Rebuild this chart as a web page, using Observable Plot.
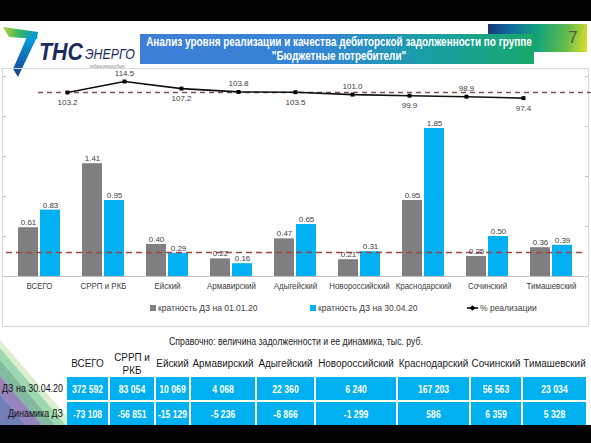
<!DOCTYPE html>
<html><head><meta charset="utf-8">
<script src="https://cdn.jsdelivr.net/npm/d3@7"></script>
<script src="https://cdn.jsdelivr.net/npm/@observablehq/plot@0.6"></script>
<style>
body{margin:0;width:591px;height:443px;overflow:hidden;background:#fff;position:relative;font-family:"Liberation Sans",Arial,sans-serif;}
.abs{position:absolute;}
.leg{position:absolute;font-size:8.5px;color:#404040;white-space:nowrap;}
</style></head><body>
<div class="abs" style="left:0;top:0;width:591px;height:21px;background:#000"></div>

<svg class="abs" style="left:0;top:0;overflow:visible" width="150" height="80">
  <defs>
    <linearGradient id="lg1" x1="0" y1="0" x2="1" y2="0">
      <stop offset="0" stop-color="#b5d334"/><stop offset="0.5" stop-color="#2fb46a"/><stop offset="1" stop-color="#0096d6"/>
    </linearGradient>
    <linearGradient id="lg2" x1="0" y1="0" x2="0" y2="1">
      <stop offset="0" stop-color="#00a0e0"/><stop offset="1" stop-color="#1c3f8f"/>
    </linearGradient>
  </defs>
  <polygon points="3,27 38,32 37,39 9,37" fill="url(#lg1)"/>
  <polygon points="27,37 37,37 18,77 13,69" fill="url(#lg2)"/>
  <text x="39" y="60" font-family="Liberation Sans, Arial, sans-serif" font-weight="bold" font-style="italic" font-size="23" fill="#1b2a5e" textLength="44" lengthAdjust="spacingAndGlyphs">ТНС</text>
  <text x="85" y="59" font-family="Liberation Sans, Arial, sans-serif" font-style="italic" font-size="14.5" fill="#1b2a5e" textLength="50" lengthAdjust="spacingAndGlyphs">ЭНЕРГО</text>
  <text x="90" y="68" font-family="Liberation Sans, Arial, sans-serif" font-style="italic" font-size="4.5" fill="#888" textLength="35" lengthAdjust="spacingAndGlyphs">кубаньэнергосбыт</text>
</svg>

<div class="abs" style="left:488px;top:24px;width:99px;height:28px;background:linear-gradient(100deg,#1b3578 0%,#0f6aa0 22%,#14a47a 50%,#62bb4a 78%,#dfe22a 100%)"></div>
<div class="abs" style="left:562px;top:24px;width:22px;height:28px;font:17px 'Liberation Sans',sans-serif;color:#555;line-height:28px;text-align:center">7</div>
<div class="abs" style="left:140px;top:34px;width:394px;height:30px;background:linear-gradient(90deg,#3f7ed8 0%,#3485d4 45%,#1a9ea8 72%,#18a86a 100%)"></div>
<svg id="titleSvg" class="abs" style="left:140px;top:34px" width="394" height="30"></svg>

<div class="abs" style="left:2px;top:68px;width:587px;height:259px;border:1px solid #d9d9d9;box-sizing:border-box"></div>
<div id="barChart" class="abs" style="left:0;top:66px"></div>
<div id="lineChart" class="abs" style="left:0;top:70px"></div>

<div id="legend"></div>

<svg class="abs" style="left:0;top:340px" width="70" height="90">
  <polygon points="0,8 0,20 55,85 66,85" fill="#5cc07a" opacity="0.6"/>
  <polygon points="0,0 0,8 66,85 70,85 70,80" fill="#c5e3b0" opacity="0.6"/>
  <polygon points="0,20 0,36 42,85 55,85" fill="#2e8b60" opacity="0.6"/>
  <polygon points="0,36 0,54 26,85 42,85" fill="#6a4e9e" opacity="0.7"/>
  <polygon points="0,54 0,85 26,85" fill="#34489a" opacity="0.7"/>
</svg>
<svg id="tableSvg" class="abs" style="left:0;top:330px" width="591" height="100"></svg>

<div class="abs" style="left:0;top:425px;width:591px;height:18px;background:#000"></div>

<script>
const titleLines = ["Анализ уровня реализации и качества дебиторской задолженности по группе", "\"Бюджетные потребители\""];
const captionText = "Справочно: величина задолженности и ее динамика, тыс. руб.";
const categories = ["ВСЕГО","СРРП и РКБ","Ейский","Армавирский","Адыгейский","Новороссийский","Краснодарский","Сочинский","Тимашевский"];
const tableHeaders = [["ВСЕГО"],["СРРП и","РКБ"],["Ейский"],["Армавирский"],["Адыгейский"],["Новороссийский"],["Краснодарский"],["Сочинский"],["Тимашевский"]];
const realizationPct = [103.2, 114.5, 107.2, 103.8, 103.5, 101.0, 99.9, 98.9, 97.4];
const realizationRef = 103.2;
const ratioJan = [0.61, 1.41, 0.40, 0.22, 0.47, 0.21, 0.95, 0.25, 0.36];
const ratioApr = [0.83, 0.95, 0.29, 0.16, 0.65, 0.31, 1.85, 0.50, 0.39];
const ratioRef = 0.30;
const ratioDomain = [0, 2.5];
const secondaryTicks = [0, 0.625, 1.25, 1.875, 2.5];
const seriesNames = ["кратность ДЗ на 01.01.20", "кратность ДЗ на 30.04.20", "% реализации"];
const rowNames = ["ДЗ на 30.04.20", "Динамика ДЗ"];
const debtApr = [372592, 83054, 10069, 4068, 22360, 6240, 167203, 56563, 23034];
const debtChange = [-73108, -56851, -15129, -5236, -6866, -1299, 586, 6359, 5328];

const GRAY = "#7f7f7f", BLUE = "#00b0f0";
const FONT = '"Liberation Sans",Arial,sans-serif';

// title
{
  const svg = d3.select("#titleSvg");
  const t1 = svg.append("text").attr("font-family", FONT).attr("font-weight", "bold").attr("font-size", 12).attr("fill", "#fff")
    .attr("text-anchor", "middle").text(titleLines[0]);
  const len = t1.node().getComputedTextLength();
  const k = 386 / len;
  t1.attr("transform", `translate(199,12.3) scale(${k},1)`);
  svg.append("text").attr("font-family", FONT).attr("font-weight", "bold").attr("font-size", 12).attr("fill", "#fff")
    .attr("text-anchor", "middle").attr("transform", `translate(199,26) scale(${k},1)`).text(titleLines[1]);
}

const jan = categories.map((c, i) => ({cat: c, v: ratioJan[i]}));
const apr = categories.map((c, i) => ({cat: c, v: ratioApr[i]}));
const line = categories.map((c, i) => ({cat: c, v: realizationPct[i], i}));

const barPlot = Plot.plot({
  width: 591, height: 234, marginLeft: 6, marginRight: 7, marginTop: 10, marginBottom: 24,
  style: {fontFamily: FONT, fontSize: "9px", color: "#404040", background: "transparent", overflow: "visible"},
  x: {type: "band", domain: categories, paddingInner: 0.346, paddingOuter: 0.173, label: null},
  y: {domain: ratioDomain, label: null},
  marks: [
    Plot.axisY({ticks: 5, tickSize: 3, tickFormat: () => "", stroke: "#bfbfbf", label: null}),
    Plot.axisY({anchor: "right", ticks: secondaryTicks, tickSize: 3, tickFormat: () => "", stroke: "#bfbfbf", label: null}),
    Plot.barY(jan, {x: "cat", y: "v", fill: GRAY, insetRight: 22, insetLeft: 0}),
    Plot.barY(apr, {x: "cat", y: "v", fill: BLUE, insetLeft: 22, insetRight: 0}),
    Plot.ruleY([0], {stroke: "#bfbfbf"}),
    Plot.ruleY([ratioRef], {stroke: "#a04545", strokeDasharray: "6,4", strokeWidth: 1.5}),
    Plot.text(jan, {x: "cat", y: "v", text: d => d.v.toFixed(2), dx: -11, dy: -5, fontSize: 8, fill: "#404040"}),
    Plot.text(apr, {x: "cat", y: "v", text: d => d.v.toFixed(2), dx: 11, dy: -5, fontSize: 8, fill: "#404040"}),
    Plot.axisX({tickSize: 0, tickPadding: 6, fontSize: 9, fill: "#404040", label: null})
  ]
});
document.getElementById("barChart").append(barPlot);
// condense category labels like the narrow font of the original
d3.select(barPlot).selectAll("text").each(function () {
  if (categories.includes(this.textContent)) {
    const L = this.getComputedTextLength();
    this.setAttribute("textLength", (L * 0.88).toFixed(1));
    this.setAttribute("lengthAdjust", "spacingAndGlyphs");
  }
});

const linePlot = Plot.plot({
  width: 591, height: 40, marginLeft: 38, marginRight: 0, marginTop: 0, marginBottom: 0,
  style: {fontFamily: FONT, fontSize: "8px", color: "#404040", background: "transparent", overflow: "visible"},
  x: {type: "point", domain: categories, range: [38.1, 552], axis: null},
  y: {domain: [84.7, 125.8], axis: null},
  marks: [
    Plot.ruleY([realizationRef], {stroke: "#7a5555", strokeDasharray: "5,4", strokeWidth: 1.5}),
    Plot.line(line, {x: "cat", y: "v", stroke: "#111", strokeWidth: 1.6}),
    Plot.dot(line, {x: "cat", y: "v", r: 2.2, fill: "#000", symbol: "square"}),
    Plot.text(line.filter(d => d.i % 2 === 0), {x: "cat", y: "v", text: d => d.v.toFixed(1), dy: 10, fontSize: 8, fill: "#404040"}),
    Plot.text(line.filter(d => d.i % 2 === 1), {x: "cat", y: "v", text: d => d.v.toFixed(1), dy: -8, fontSize: 8, fill: "#404040"})
  ]
});
document.getElementById("lineChart").append(linePlot);

// legend
const legend = document.getElementById("legend");
const legItems = [
  {x: 150, name: seriesNames[0], kind: "sq", color: GRAY},
  {x: 310, name: seriesNames[1], kind: "sq", color: BLUE},
  {x: 467, name: seriesNames[2], kind: "ln", color: "#000"}
];
legItems.forEach(it => {
  const d = document.createElement("div");
  d.className = "leg";
  d.style.left = it.x + "px";
  d.style.top = "303px";
  const icon = it.kind === "sq"
    ? `<svg width="7" height="8" style="vertical-align:-1px;margin-right:1px"><rect x="0" y="1" width="6" height="6" fill="${it.color}"/></svg>`
    : `<svg width="12" height="8" style="vertical-align:-1px;margin-right:1px"><line x1="0" y1="4" x2="11" y2="4" stroke="#000" stroke-width="1.5"/><rect x="3.5" y="2" width="4" height="4" fill="#000" transform="rotate(45 5.5 4)"/></svg>`;
  d.innerHTML = icon + it.name;
  legend.append(d);
});

// caption + table (svg, y offset 330)
const colWidths = [66, 43, 46, 35, 66, 59, 82, 73, 52, 65];
const colX = d3.cumsum([0, ...colWidths]);
const fmt = d3.formatLocale({thousands: "\u00a0", grouping: [3], decimal: ",", currency: ["", ""], minus: "-"}).format(",d");
{
  const svg = d3.select("#tableSvg").attr("font-family", FONT);
  const cap = svg.append("text").attr("x", 169).attr("y", 15).attr("font-size", 10.5).attr("fill", "#222").text(captionText);
  cap.attr("textLength", 254).attr("lengthAdjust", "spacingAndGlyphs");
  tableHeaders.forEach((h, j) => {
    const cx = (colX[j + 1] + colX[j + 2]) / 2;
    h.forEach((ln, k) => {
      const cy = h.length === 1 ? 37 : 31 + k * 13;
      svg.append("text").attr("transform", `translate(${cx},${cy}) scale(0.9,1)`)
        .attr("text-anchor", "middle").attr("font-size", 11).attr("fill", "#1a1a1a").text(ln);
    });
  });
  const rows = [debtApr, debtChange];
  const rowTop = [46, 71];
  rows.forEach((row, r) => {
    const y0 = rowTop[r], h = 25;
    const lab = svg.append("text").attr("x", 63).attr("y", y0 + 16.5).attr("text-anchor", "end").attr("font-size", 11).attr("fill", "#111").text(rowNames[r]);
    const L = lab.node().getComputedTextLength();
    lab.attr("transform", `translate(63,0) scale(${r === 0 ? 61 / L : 55 / L},1) translate(-63,0)`);
    row.forEach((v, j) => {
      const x0 = colX[j + 1], w = colWidths[j + 1];
      svg.append("rect").attr("x", x0 + 1).attr("y", y0 + 1).attr("width", w - 2).attr("height", h - 2).attr("fill", BLUE);
      svg.append("text").attr("transform", `translate(${x0 + w / 2},${y0 + 16.5}) scale(0.75,1)`)
        .attr("text-anchor", "middle").attr("font-size", 11.5).attr("font-weight", "bold").attr("fill", "#fff").text(fmt(v));
    });
  });
}
</script>
</body></html>
